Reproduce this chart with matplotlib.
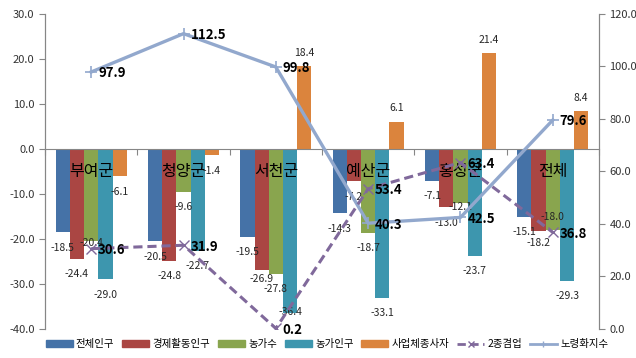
import numpy as np
import matplotlib
matplotlib.use("Agg")
import matplotlib.pyplot as plt
from matplotlib.lines import Line2D
from matplotlib.patches import Patch

plt.rcParams['font.family'] = ['Noto Sans CJK KR', 'DejaVu Sans']

# ---- data ----
regions = ["부여군", "청양군", "서천군", "예산군", "홍성군", "전체"]
bar_names = ["전체인구", "경제활동인구", "농가수", "농가인구", "사업체종사자"]
total_pop = [-18.5, -20.5, -19.5, -14.3, -7.1, -15.1]
econ_pop = [-24.4, -24.8, -26.9, -7.2, -13.0, -18.2]
farm_households = [-20.4, -9.6, -27.8, -18.7, -12.1, -18.0]
farm_pop = [-29.0, -22.7, -36.4, -33.1, -23.7, -29.3]
business_workers = [-6.1, -1.4, 18.4, 6.1, 21.4, 8.4]
second_parttime = [30.6, 31.9, 0.2, 53.4, 63.4, 36.8]   # 2종겸업 (right axis)
aging_index = [97.9, 112.5, 99.8, 40.3, 42.5, 79.6]     # 노령화지수 (right axis)

bar_series = [total_pop, econ_pop, farm_households, farm_pop, business_workers]
bar_colors = ["#4572A7", "#AA4643", "#89A54E", "#3D96AE", "#DB843D"]
line_colors = {"2종겸업": "#80699B", "노령화지수": "#92A8CD"}

# label positions that were nudged away from the default spot
label_y_override = {(2, 0): -20.8, (1, 2): -28.8, (3, 2): -36.3,
                    (2, 4): -13.0, (2, 5): -15.2, (1, 5): -21.0}

fig = plt.figure(figsize=(6.36, 3.58), dpi=100)
ax = fig.add_axes([0.0708, 0.081, 0.871, 0.88])
ax2 = ax.twinx()

x = np.arange(len(regions))
w = 0.154
axis_gray = "#868686"

for si, (vals, col) in enumerate(zip(bar_series, bar_colors)):
    xs = x + (si - 2) * w
    ax.bar(xs, vals, w, color=col, zorder=2)
    for gi, v in enumerate(vals):
        ly = label_y_override.get((si, gi), v - 3.4 if v < 0 else v + 2.9)
        ax.text(xs[gi], ly, f"{v:.1f}", ha="center", va="center",
                fontsize=7.5, color="#262626", zorder=5)

ax.set_xlim(-0.5, len(regions) - 0.5)
ax.set_ylim(-40, 30)
ax.set_yticks(np.arange(-40, 31, 10))
ax.set_yticklabels([f"{t:.1f}" for t in np.arange(-40, 31, 10)])

# category axis crosses at zero, tick marks between groups
ax.spines['bottom'].set_position(('data', 0))
ax.set_xticks(np.arange(-0.5, len(regions), 1.0))
ax.set_xticklabels([])
ax.tick_params(axis='x', direction='out', length=4, color=axis_gray)
for xi, name in zip(x, regions):
    ax.annotate(name, (xi, 0), xytext=(0, -16.5), textcoords="offset points",
                ha="center", va="center", fontsize=11.5, color="black", zorder=6)

for a in (ax, ax2):
    a.spines['top'].set_visible(False)
    a.spines['left'].set_color(axis_gray)
    a.spines['right'].set_color(axis_gray)
    a.spines['bottom'].set_color(axis_gray)
ax2.spines['bottom'].set_visible(False)
ax.tick_params(axis='y', direction='out', length=4, color=axis_gray, labelsize=8, labelcolor="#333333")

# right axis lines
ax2.set_ylim(0, 120)
ax2.set_yticks(np.arange(0, 121, 20))
ax2.set_yticklabels([f"{t:.1f}" for t in np.arange(0, 121, 20)])
ax2.tick_params(axis='y', direction='out', length=4, color=axis_gray, labelsize=8, labelcolor="#333333")

ax2.plot(x, aging_index, color=line_colors["노령화지수"], lw=2.4, marker="+", ms=8, mew=1.2, zorder=3)
ax2.plot(x, second_parttime, color=line_colors["2종겸업"], lw=2.2, ls=(0, (3, 1.6)), marker="x", ms=7, mew=1.0, zorder=3)
for series in (aging_index, second_parttime):
    for xi, v in zip(x, series):
        ax2.annotate(f"{v:.1f}", (xi, v), xytext=(5, -1), textcoords="offset points",
                     ha="left", va="center", fontsize=9.5, fontweight="bold", color="black", zorder=6)

handles = [Patch(color=c, label=n) for c, n in zip(bar_colors, bar_names)]
handles.append(Line2D([], [], color=line_colors["2종겸업"], lw=2, ls=(0, (3, 1.6)), marker="x", ms=4, label="2종겸업"))
handles.append(Line2D([], [], color=line_colors["노령화지수"], lw=2, marker="+", ms=5, label="노령화지수"))
fig.legend(handles=handles, loc="center", bbox_to_anchor=(0.514, 0.038), ncol=7, frameon=False,
           fontsize=7.5, handlelength=2.6, handleheight=0.6, handletextpad=0.3, columnspacing=0.75)

fig.savefig("out.png", dpi=100)
